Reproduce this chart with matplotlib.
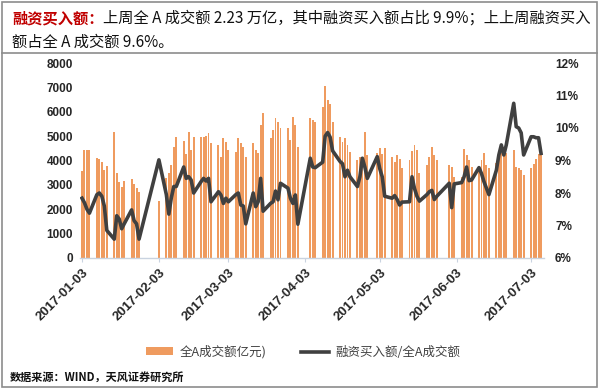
import matplotlib
matplotlib.use('Agg')
import matplotlib.pyplot as plt
import matplotlib.dates as mdates
import numpy as np
from matplotlib.lines import Line2D
from matplotlib.patches import Patch, Rectangle

plt.rcParams['font.family'] = ['Liberation Sans', 'Noto Sans CJK SC', 'DejaVu Sans']

# ---- data -------------------------------------------------------------
jan_days = [3, 4, 5, 6, 9, 10, 11, 12, 13, 16, 17, 18, 19, 20, 23, 24, 25, 26]
feb_days = [3, 6, 7, 8, 9, 10, 13, 14, 15, 16, 17, 20, 21, 22, 23, 24, 27, 28]
mar_days = [1, 2, 3, 6, 7, 8, 9, 10, 13, 14, 15, 16, 17, 20, 21, 22, 23, 24, 27, 28, 29, 30, 31]
apr_days = [5, 6, 7, 10, 11, 12, 13, 14, 17, 18, 19, 20, 21, 24, 25, 26, 27, 28]
may_days = [2, 3, 4, 5, 8, 9, 10, 11, 12, 15, 16, 17, 18, 19, 22, 23, 24, 25, 26, 31]
jun_days = [1, 2, 5, 6, 7, 8, 9, 12, 13, 14, 15, 16, 19, 20, 21, 22, 23, 26, 27, 28, 29, 30]
jul_days = [3, 4, 5, 6, 7]

turnover = [  # 全A成交额（亿元）
    3550, 4450, 4450, 4450, 4100, 4050, 3930, 3620, 3780, 5150, 3480, 3100, 2930, 3150, 3250, 3050, 2880, 2700,
    2330, 3300, 3480, 3810, 4550, 4960, 4780, 4250, 5150, 4450, 4960, 4960, 4960, 5000, 5120, 4710, 4630, 4140,
    4920, 4750, 4430, 4340, 4920, 4710, 4550, 4140, 4710, 4430, 4300, 5450, 5940, 4920, 5250, 5740, 5570, 5330,
    5330, 4850, 5780, 5450, 4570,
    5740, 5650, 5570, 6190, 7070, 6480, 6300, 5600, 4960, 4770, 4920, 4630, 4350, 4020, 4140, 4000, 5160, 4220,
    4300, 4500, 4250, 4500, 4150, 3930, 4220, 4050, 3700, 4020, 4400, 4630, 4450, 3480, 3800, 4140, 4550, 4220,
    4020, 3800,
    3750, 3340, 3340, 4490, 4220, 4020, 3750, 3550, 4020, 4300, 3800, 3700, 3890, 4140, 4300, 4550, 4300, 4450,
    3750, 3680, 3600, 3400,
    3700, 3850, 4050, 4250, 4350,
]

ratio = [  # 融资买入额/全A成交额（%）
    7.84, 7.70, 7.50, 7.38, 7.95, 8.00, 7.90, 7.60, 6.85, 6.58, 7.30, 7.20, 6.90, 7.05, 7.48, 7.15, 7.05, 6.58,
    9.02, 7.95, 7.35, 7.85, 8.20, 8.20, 8.80, 8.45, 8.50, 8.40, 8.00, 8.35, 8.45, 8.37, 8.45, 7.73, 8.04, 7.94,
    7.68, 7.84, 7.73, 7.95, 8.00, 7.63, 7.60, 7.05, 8.00, 7.58, 7.73, 8.45, 7.44, 7.68, 7.73, 8.06, 7.79, 8.30,
    8.15, 7.84, 7.68, 7.94, 7.04,
    9.07, 8.80, 8.78, 8.95, 9.75, 9.86, 9.72, 9.30, 8.97, 8.90, 8.50, 8.70, 8.50, 8.20, 8.50, 9.07, 8.80, 8.45,
    9.12, 8.75, 8.50, 7.90, 7.84, 7.92, 7.80, 7.63, 7.72, 7.73, 8.50, 8.14, 7.90, 7.75, 7.95, 8.04, 8.08, 7.80,
    7.90, 8.30,
    7.55, 8.28, 8.32, 8.50, 8.80, 8.38, 8.40, 8.78, 8.60, 8.35, 8.15, 7.95, 8.70, 9.17, 9.48, 9.17, 9.48, 10.76,
    10.04, 10.00, 9.85, 9.17,
    9.73, 9.73, 9.70, 9.70, 9.22,
]

tick_dates = ['2017-01-03', '2017-02-03', '2017-03-03', '2017-04-03',
              '2017-05-03', '2017-06-03', '2017-07-03']
left_ticks = [0, 1000, 2000, 3000, 4000, 5000, 6000, 7000, 8000]
right_ticks = [6, 7, 8, 9, 10, 11, 12]

bar_label = '全A成交额亿元)'
line_label = '融资买入额/全A成交额'
title_red = '融资买入额：'
title_line1 = '上周全 A 成交额 2.23 万亿，其中融资买入额占比 9.9%；上上周融资买入'
title_line2 = '额占全 A 成交额 9.6%。'
source_text = '数据来源：WIND，天风证券研究所'

# ---- build -----------------------------------------------------------
all_days = [jan_days, feb_days, mar_days, apr_days, may_days, jun_days, jul_days]
dates = np.array([np.datetime64(f'2017-{m:02d}-{d:02d}')
                  for m, days in enumerate(all_days, start=1) for d in days])
xnum = mdates.date2num(dates)

W, H = 600, 389
fig = plt.figure(figsize=(6.0, 3.89), dpi=100)
fig.patch.set_facecolor('white')

def fx(px):
    return px / W

def fy(py):
    return 1 - py / H

ax_l, ax_r, ax_t, ax_b = 80, 544, 63, 258
ax = fig.add_axes([fx(ax_l), fy(ax_b), (ax_r - ax_l) / W, (ax_b - ax_t) / H])
ax2 = ax.twinx()

bar_color = '#EF9B5F'
line_color = '#404040'
txt_color = '#262626'

ax.bar(xnum, turnover, width=0.78, color=bar_color, linewidth=0, zorder=2)
ax2.plot(xnum, ratio, color=line_color, linewidth=2.6, solid_joinstyle='round', zorder=3)

ax.set_ylim(0, 8000)
ax2.set_ylim(6, 12)
x0 = mdates.date2num(np.datetime64('2017-01-03')) - 0.8
x1 = mdates.date2num(np.datetime64('2017-07-07')) + 1.2
ax.set_xlim(x0, x1)

ax.set_yticks(left_ticks)
ax.set_yticklabels([str(v) for v in left_ticks], fontsize=8.5, fontweight='bold', color=txt_color)
ax2.set_yticks(right_ticks)
ax2.set_yticklabels([f'{v}%' for v in right_ticks], fontsize=8.5, fontweight='bold', color=txt_color)

tnum = mdates.date2num(np.array([np.datetime64(d) for d in tick_dates]))
ax.set_xticks(tnum)
ax.set_xticklabels(tick_dates, rotation=45, ha='right', rotation_mode='anchor',
                   fontsize=9.5, fontweight='bold', color=txt_color)

for a in (ax, ax2):
    for s in ('top', 'left', 'right'):
        a.spines[s].set_visible(False)
ax2.spines['bottom'].set_visible(False)
ax.spines['bottom'].set_color('#C9D3E0')
ax.spines['bottom'].set_linewidth(1.0)
ax.tick_params(axis='y', length=0, pad=5)
ax2.tick_params(axis='y', length=0, pad=8)
ax.tick_params(axis='x', length=3, color='#C9D3E0', pad=3)

# ---- legend ----------------------------------------------------------
handles = [Patch(facecolor=bar_color, edgecolor='none'),
           Line2D([0], [0], color=line_color, linewidth=2.6)]
leg = fig.legend(handles, [bar_label, line_label], loc='center',
                 bbox_to_anchor=(fx(303), fy(352)), ncol=2, frameon=False,
                 prop={'family': ['Noto Sans CJK SC'], 'size': 9},
                 handlelength=2.2, handleheight=0.6, columnspacing=2.8, handletextpad=0.5)
for t in leg.get_texts():
    t.set_color('#404040')

# ---- title -----------------------------------------------------------
cjk = ['Noto Sans CJK SC', 'DejaVu Sans']
tsize = 11
red = fig.text(fx(12), fy(18), title_red, color='#C00000', fontsize=tsize, fontweight='bold',
               family=cjk, va='center', ha='left')
fig.canvas.draw()
bb = red.get_window_extent(renderer=fig.canvas.get_renderer())
fig.text(bb.x1 / W, fy(18), title_line1, color='#111111', fontsize=tsize, family=cjk,
         va='center', ha='left')
fig.text(fx(12), fy(42), title_line2, color='#111111', fontsize=tsize, family=cjk,
         va='center', ha='left')

# source
fig.text(fx(10), fy(377), source_text, fontsize=8, fontweight='bold', style='italic',
         family=cjk, color='#111111', va='center', ha='left')

# frame
fig.add_artist(Rectangle((fx(2), fy(387)), (W - 5) / W, 385 / H, transform=fig.transFigure,
                         fill=False, edgecolor='#8C8C8C', linewidth=1.2))
fig.add_artist(Line2D([fx(2), fx(597)], [fy(53), fy(53)], transform=fig.transFigure,
                      color='#8C8C8C', linewidth=1.2))

fig.savefig('out.png', dpi=100)
